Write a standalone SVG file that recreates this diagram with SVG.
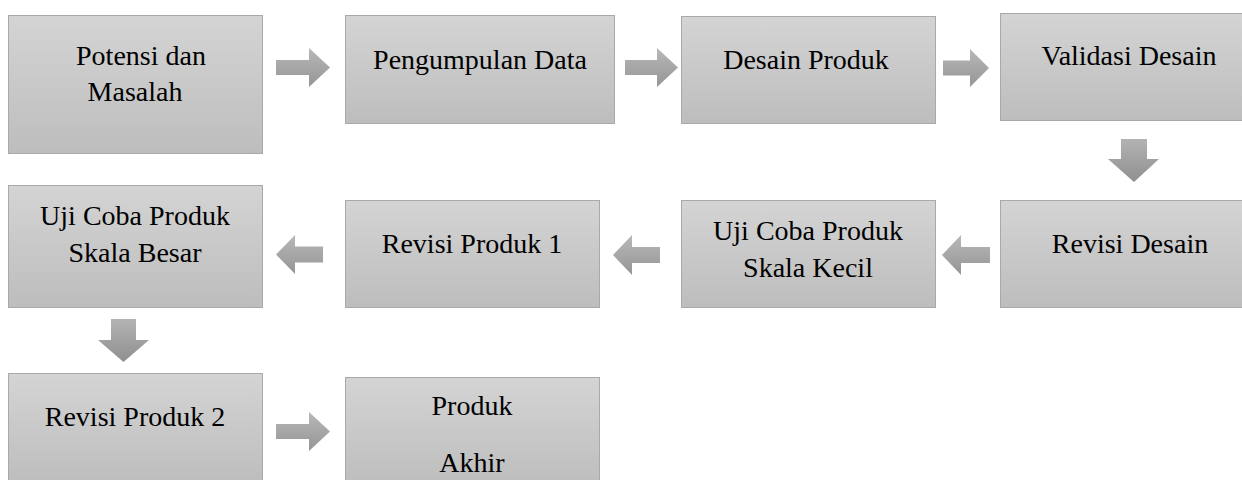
<svg xmlns="http://www.w3.org/2000/svg" width="1242" height="480" viewBox="0 0 1242 480">
<defs>
<linearGradient id="boxGrad" x1="0" y1="0" x2="0" y2="1">
<stop offset="0" stop-color="#d4d4d4"/>
<stop offset="1" stop-color="#bdbdbd"/>
</linearGradient>
<linearGradient id="arrGrad" x1="0" y1="0" x2="0" y2="1">
<stop offset="0" stop-color="#b8b8b8"/>
<stop offset="1" stop-color="#959595"/>
</linearGradient>
<linearGradient id="arrGradV" x1="0" y1="0" x2="0" y2="1">
<stop offset="0" stop-color="#b3b3b3"/>
<stop offset="1" stop-color="#8f8f8f"/>
</linearGradient>
</defs>
<style>
.box{fill:url(#boxGrad);stroke:#a9a9a9;stroke-width:1}
.lbl{font-family:"Liberation Serif","Times New Roman",Tinos,"Nimbus Roman","Nimbus Roman No9 L",FreeSerif,"Noto Serif","DejaVu Serif",Georgia,serif;font-size:28px;fill:#000;text-anchor:middle}
.arr{fill:url(#arrGrad);stroke:none}
.arrv{fill:url(#arrGradV);stroke:none}
</style>
<rect width="1242" height="480" fill="#ffffff"/>
<g id="connectors">
<path class="arr" d="M276 60 L309 60 L309 48 L330 67.5 L309 87 L309 75 L276 75 Z"/>
<path class="arr" d="M625 60 L657 60 L657 48 L678 67.5 L657 87 L657 75 L625 75 Z"/>
<path class="arr" d="M943 60.5 L970 60.5 L970 49 L989 68 L970 87 L970 75.5 L943 75.5 Z"/>
<path class="arrv" d="M1121 139 L1147 139 L1147 159 L1159 159 L1134 182 L1108 159 L1121 159 Z"/>
<path class="arr" d="M990 247 L961 247 L961 235 L942 255 L961 275 L961 263 L990 263 Z"/>
<path class="arr" d="M660 247 L632 247 L632 235 L613 255 L632 275 L632 263 L660 263 Z"/>
<path class="arr" d="M323 246.5 L295 246.5 L295 235 L276 254.5 L295 274 L295 262.5 L323 262.5 Z"/>
<path class="arrv" d="M111 319 L136 319 L136 340 L149 340 L123.5 362 L98 340 L111 340 Z"/>
<path class="arr" d="M276 424 L309 424 L309 412 L330 431.5 L309 451 L309 439 L276 439 Z"/>
</g>
<g id="n1">
<rect class="box" x="8.5" y="15.5" width="254" height="138"/>
<text class="lbl" x="141" y="65">Potensi dan</text>
<text class="lbl" x="135" y="101">Masalah</text>
</g>
<g id="n2">
<rect class="box" x="345.5" y="15.5" width="269" height="108"/>
<text class="lbl" x="480" y="69">Pengumpulan Data</text>
</g>
<g id="n3">
<rect class="box" x="681.5" y="16.5" width="254" height="107"/>
<text class="lbl" x="806" y="69">Desain Produk</text>
</g>
<g id="n4">
<rect class="box" x="1000.5" y="13.5" width="260" height="107"/>
<text class="lbl" x="1129" y="65">Validasi Desain</text>
</g>
<g id="n5">
<rect class="box" x="1000.5" y="200.5" width="260" height="107"/>
<text class="lbl" x="1130" y="253">Revisi Desain</text>
</g>
<g id="n6">
<rect class="box" x="681.5" y="200.5" width="254" height="107"/>
<text class="lbl" x="808" y="240">Uji Coba Produk</text>
<text class="lbl" x="808" y="277">Skala Kecil</text>
</g>
<g id="n7">
<rect class="box" x="345.5" y="200.5" width="254" height="107"/>
<text class="lbl" x="472" y="253">Revisi Produk 1</text>
</g>
<g id="n8">
<rect class="box" x="8.5" y="185.5" width="254" height="122"/>
<text class="lbl" x="135" y="225">Uji Coba Produk</text>
<text class="lbl" x="135" y="262">Skala Besar</text>
</g>
<g id="n9">
<rect class="box" x="8.5" y="373.5" width="254" height="110"/>
<text class="lbl" x="135" y="426">Revisi Produk 2</text>
</g>
<g id="n10">
<rect class="box" x="345.5" y="377.5" width="254" height="110"/>
<text class="lbl" x="472" y="415">Produk</text>
<text class="lbl" x="472" y="472">Akhir</text>
</g>
</svg>
